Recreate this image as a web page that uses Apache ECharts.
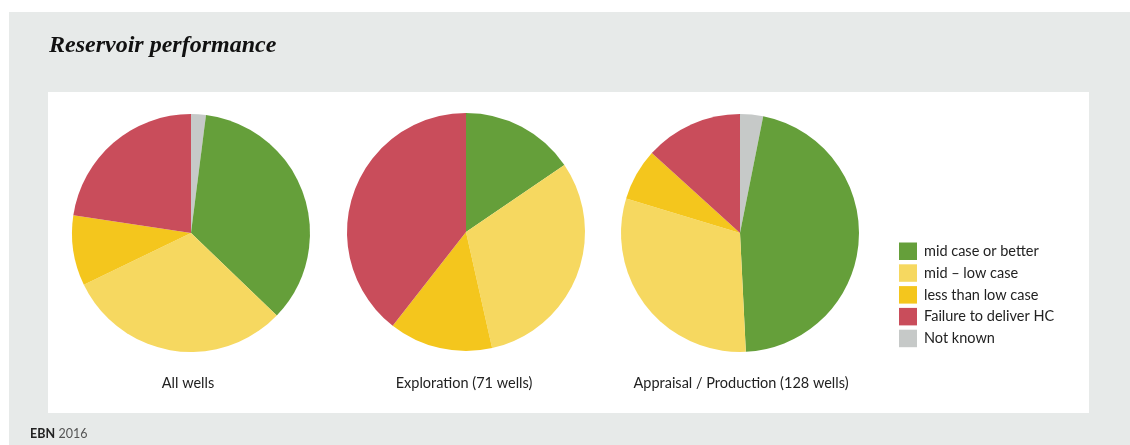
<!DOCTYPE html>
<html>
<head>
<meta charset="utf-8">
<script src="https://cdn.jsdelivr.net/npm/echarts@6/dist/echarts.min.js"></script>
<style>
html,body{margin:0;padding:0;background:#fff;}
#chart{width:1130px;height:445px;}
</style>
</head>
<body>
<div id="chart"></div>
<script>
// Categories (clockwise from 12 o'clock)
const categories = ['Not known', 'mid case or better', 'mid \u2013 low case', 'less than low case', 'Failure to deliver HC'];
const legendOrder = ['mid case or better', 'mid \u2013 low case', 'less than low case', 'Failure to deliver HC', 'Not known'];
const colors = ['#C6C9C8', '#659F3A', '#F6D860', '#F4C61D', '#C94D5B'];

// Well counts per category (same order as categories)
const allWells = [4, 70, 61, 19, 45];
const exploration = [0, 11, 22, 10, 28];
const appraisal = [4, 59, 39, 9, 17];

const pieTitles = ['All wells', 'Exploration (71 wells)', 'Appraisal / Production (128 wells)'];
const pieValues = [allWells, exploration, appraisal];

const chart = echarts.init(document.getElementById('chart'), null, {renderer: 'canvas'});

const centers = [[191, 233], [466, 232], [740, 233]];
const titleX = [188, 464, 741];

const series = pieValues.map((vals, i) => ({
  type: 'pie',
  name: pieTitles[i],
  center: centers[i],
  radius: [0, 119],
  startAngle: 90,
  clockwise: true,
  avoidLabelOverlap: false,
  label: {show: false},
  labelLine: {show: false},
  emphasis: {disabled: true},
  animation: false,
  itemStyle: {borderWidth: 0},
  data: categories.map((c, j) => ({name: c, value: vals[j], itemStyle: {color: colors[j]}}))
}));

const option = {
  animation: false,
  color: colors,
  graphic: [
    {type: 'rect', z: -10, shape: {x: 9, y: 12, width: 1121, height: 433}, style: {fill: '#E7EAE9'}},
    {type: 'rect', z: -9, shape: {x: 48, y: 92, width: 1041, height: 321}, style: {fill: '#FFFFFF'}},
    {type: 'text', left: 49, top: 34, style: {text: 'Reservoir performance', font: 'italic bold 24px "Liberation Serif", "DejaVu Serif", serif', fill: '#111'}},
    {type: 'text', left: 30, top: 427, style: {rich: {b: {fontFamily: 'Lato', fontWeight: 'bold', fontSize: 12.5, fill: '#222'}, n: {fontFamily: 'Lato', fontSize: 12.5, fill: '#555'}}, text: '{b|EBN} {n|2016}'}}
  ],
  title: pieTitles.map((t, i) => ({
    text: t,
    left: titleX[i],
    top: 376,
    padding: 0,
    textAlign: 'center',
    textStyle: {fontFamily: 'Lato', fontSize: 14.5, fontWeight: 'normal', color: '#222'}
  })),
  legend: {
    orient: 'vertical',
    left: 899,
    top: 242.5,
    padding: 0,
    itemWidth: 18,
    itemHeight: 17.5,
    itemGap: 4.3,
    icon: 'rect',
    selectedMode: false,
    data: legendOrder,
    textStyle: {fontFamily: 'Lato', fontSize: 14.5, color: '#222', padding: [0, 0, 0, 2]}
  },
  series: series
};
chart.setOption(option);
</script>
</body>
</html>
